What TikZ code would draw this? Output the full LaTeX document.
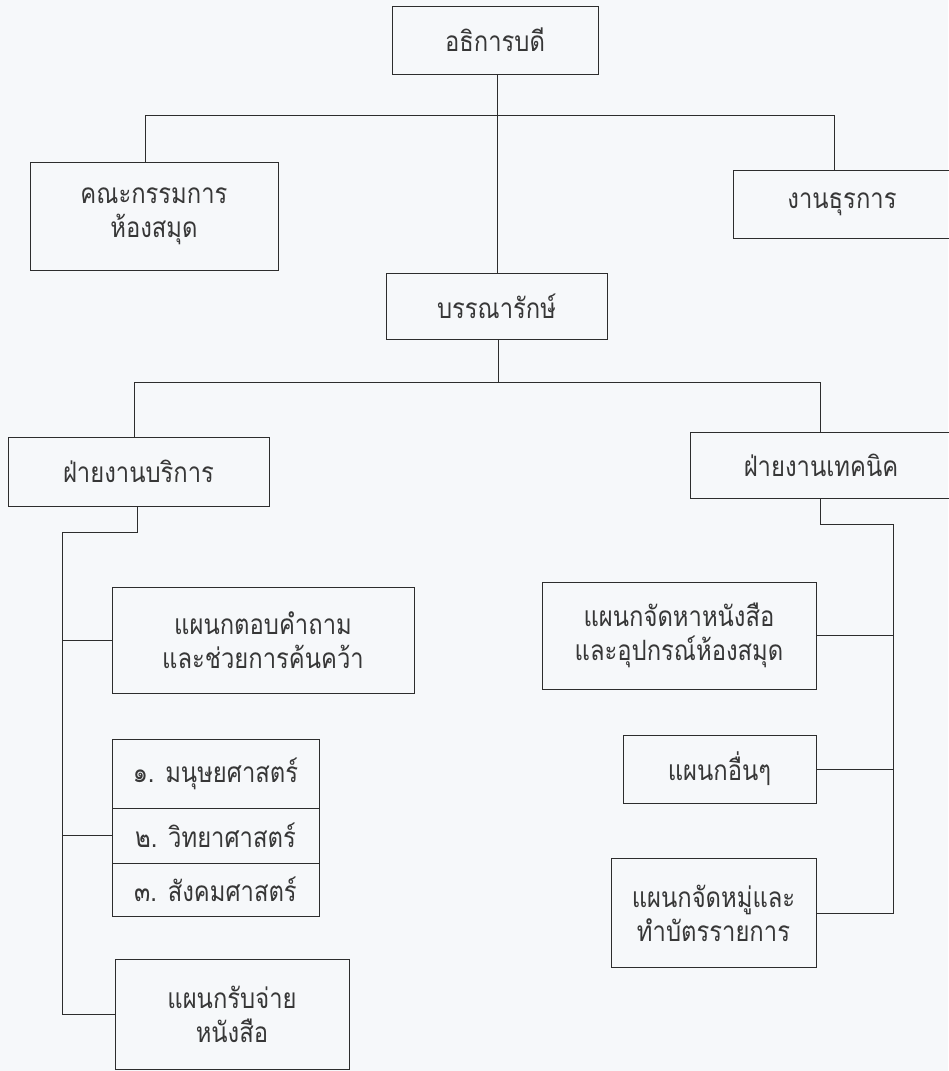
\documentclass[tikz,border=0pt]{standalone}
\usepackage{fontspec}
\newfontfamily\thaifont[Script=Thai, FakeStretch=0.85]{Loma}
\definecolor{bg}{RGB}{246,248,250}
\definecolor{ink}{RGB}{45,45,45}
\definecolor{txt}{RGB}{55,55,55}
\begin{document}
\begin{tikzpicture}[x=1pt,y=-1pt,
  box/.style={draw=ink, line width=1pt, rectangle, inner sep=0pt, align=center,
    font=\thaifont\fontsize{28}{34}\selectfont, text=txt},
  conn/.style={draw=ink, line width=1pt}]
\fill[bg] (0,0) rectangle (948,1071);
\useasboundingbox (0,0) rectangle (948,1071);

% boxes
\node[box, minimum width=206pt, minimum height=68pt] (A) at (495,40) {อธิการบดี};
\node[box, minimum width=248pt, minimum height=108pt] (B) at (154,216) {คณะกรรมการ\\ห้องสมุด};
\node[box, minimum width=218pt, minimum height=68pt] (C) at (842,204) {งานธุรการ};
\node[box, minimum width=221pt, minimum height=66pt] (D) at (496.5,306) {บรรณารักษ์};
\node[box, minimum width=261pt, minimum height=69pt] (E) at (138.5,471.5) {ฝ่ายงานบริการ};
\node[box, minimum width=262pt, minimum height=66pt] (F) at (821,465) {ฝ่ายงานเทคนิค};
\node[box, minimum width=302pt, minimum height=106pt] (G) at (263,640) {แผนกตอบคำถาม\\และช่วยการค้นคว้า};
\node[box, minimum width=207pt, minimum height=69pt] (H1) at (215.5,773.5) {๑. มนุษยศาสตร์};
\node[box, minimum width=207pt, minimum height=55pt] (H2) at (215.5,835.5) {๒. วิทยาศาสตร์};
\node[box, minimum width=207pt, minimum height=53pt] (H3) at (215.5,889.5) {๓. สังคมศาสตร์};
\node[box, minimum width=234pt, minimum height=110pt] (I) at (232,1014) {แผนกรับจ่าย\\หนังสือ};
\node[box, minimum width=274pt, minimum height=107pt] (J) at (679,635.5) {แผนกจัดหาหนังสือ\\และอุปกรณ์ห้องสมุด};
\node[box, minimum width=193pt, minimum height=68pt] (K) at (719.5,769) {แผนกอื่นๆ};
\node[box, minimum width=205pt, minimum height=109pt] (L) at (713.5,913) {แผนกจัดหมู่และ\\ทำบัตรรายการ};

% top level
\coordinate (t1) at (497,115);
\coordinate (t1L) at (145,115);
\coordinate (t1R) at (834,115);
\draw[conn] (A.south -| t1) -- (D.north -| t1);
\draw[conn] (B.north -| t1L) -- (t1L) -- (t1R) -- (C.north -| t1R);

% second level
\coordinate (t2) at (498,382);
\coordinate (t2L) at (134,382);
\coordinate (t2R) at (820,382);
\draw[conn] (D.south -| t2) -- (t2);
\draw[conn] (E.north -| t2L) -- (t2L) -- (t2R) -- (F.north -| t2R);

% left trunk
\coordinate (j1) at (137,532);
\coordinate (j2) at (62,532);
\draw[conn] (E.south -| j1) -- (j1) -- (j2) -- (I.west -| j2) -- (I.west);
\draw[conn] (G.west -| j2) -- (G.west);
\draw[conn] (H2.west -| j2) -- (H2.west);

% right trunk
\coordinate (k1) at (820,524);
\coordinate (k2) at (893,524);
\draw[conn] (F.south -| k1) -- (k1) -- (k2) -- (L.east -| k2) -- (L.east);
\draw[conn] (J.east) -- (J.east -| k2);
\draw[conn] (K.east) -- (K.east -| k2);
\end{tikzpicture}
\end{document}
